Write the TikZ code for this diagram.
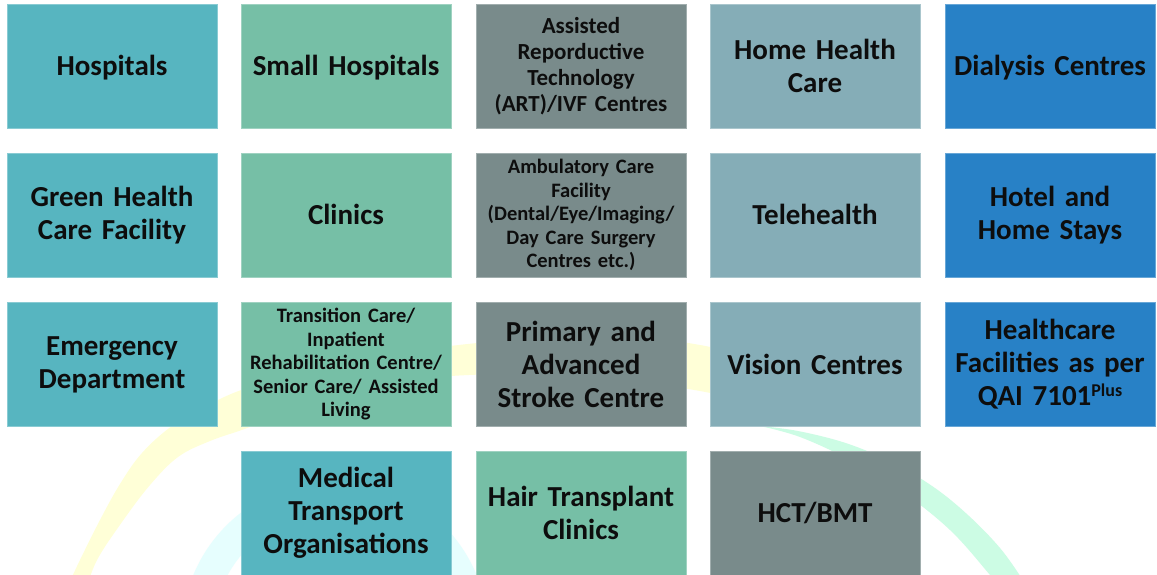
\documentclass[tikz,border=0pt]{standalone}
\usepackage{fontspec}
\setmainfont{Carlito}
\definecolor{cteal}{HTML}{57B5C0}
\definecolor{cgreen}{HTML}{76BFA6}
\definecolor{cgray}{HTML}{798B8B}
\definecolor{cslate}{HTML}{85ADB7}
\definecolor{cblue}{HTML}{2881C6}
\definecolor{arcyellow}{HTML}{FFFFD7}
\definecolor{arcgreen}{HTML}{CCFCE4}
\definecolor{arccyan}{HTML}{E6FEFE}
\definecolor{txt}{HTML}{0D0D0D}
\tikzset{
  tile/.style={minimum width=210pt, minimum height=124pt, inner sep=0pt,
    text width=204pt, align=center, text=txt, line width=0.8pt},
  bigtxt/.style={font=\fontsize{29}{33}\selectfont\bfseries},
  midtxt/.style={font=\fontsize{23}{26}\selectfont\bfseries},
  smalltxt/.style={font=\fontsize{20.5}{23.5}\selectfont\bfseries},
  oneline/.style={text height=19pt, text depth=0pt},
  teal/.style={tile, fill=cteal, draw=cteal!70!white},
  green/.style={tile, fill=cgreen, draw=cgreen!70!white},
  grey/.style={tile, fill=cgray, draw=cgray!70!white},
  slate/.style={tile, fill=cslate, draw=cslate!70!white},
  blue/.style={tile, fill=cblue, draw=cblue!70!white},
}
\begin{document}
\begin{tikzpicture}[x=1pt,y=-1pt]
\useasboundingbox (0,0) rectangle (1157,575);
\fill[white] (0,0) rectangle (1157,575);
\begin{scope}
\clip (0,0) rectangle (1157,575);
% background swooshes
\fill[arcyellow] plot[smooth, tension=0.6] coordinates {(66,590) (80,560) (100,520) (120,484) (142,453) (172,426) (210,404) (250,387) (330,364) (450,346) (560,337) (650,339) (700,345) (760,358)}
  -- plot[smooth, tension=0.6] coordinates {(760,405) (700,391) (600,377) (500,374) (400,381) (320,400) (250,427) (210,441) (178,457) (150,485) (122,522) (97,560) (86,590)} -- cycle;
\fill[arcgreen] plot[smooth, tension=0.6] coordinates {(760,426) (800,431.4) (850,444.5) (900,466.5) (950,499.4) (1000,548) (1035,599.5)}
  -- plot[smooth, tension=0.6] coordinates {(1010,600) (990,575) (950,530) (900,490) (850,460) (800,437) (760,426)} -- cycle;
\draw[arccyan, line width=31pt] (335,634) ++(150:138) arc[start angle=150, end angle=400, radius=138];
\end{scope}
% row 1
\node[teal, bigtxt, oneline]  (hosp)   at (112,66)  {Hospitals};
\node[green, bigtxt, oneline] (small)  at (346,66)  {Small Hospitals};
\node[grey, midtxt]  (art)    at (581,66)  {Assisted\\Reporductive\\Technology\\(ART)/IVF Centres};
\node[slate, bigtxt] (home)   at (815,66)  {Home Health\\Care};
\node[blue, bigtxt, oneline]  (dial)   at (1050,66) {Dialysis Centres};
% row 2
\node[teal, bigtxt]  (greenhc) at (112,215)  {Green Health\\Care Facility};
\node[green, bigtxt, oneline] (clinics) at (346,215)  {Clinics};
\node[grey, smalltxt] (amb)    at (581,215)  {Ambulatory Care\\Facility\\(Dental/Eye/Imaging/\\Day Care Surgery\\Centres etc.)};
\node[slate, bigtxt, oneline] (tele)    at (815,215)  {Telehealth};
\node[blue, bigtxt]  (hotel)   at (1050,215) {Hotel and\\Home Stays};
% row 3
\node[teal, bigtxt]  (emerg)  at (112,364.5)  {Emergency\\Department};
\node[green, smalltxt] (trans) at (346,364.5) {Transition Care/\\Inpatient\\Rehabilitation Centre/\\Senior Care/ Assisted\\Living};
\node[grey, bigtxt]  (stroke) at (581,364.5)  {Primary and\\Advanced\\Stroke Centre};
\node[slate, bigtxt, oneline] (vision) at (815,364.5)  {Vision Centres};
\node[blue, bigtxt]  (qai)    at (1050,364.5) {Healthcare\\Facilities as per\\QAI 7101\raisebox{9pt}{\fontsize{18}{18}\selectfont Plus}};
% row 4
\node[teal, bigtxt]  (medtr) at (346,513) {Medical\\Transport\\Organisations};
\node[green, bigtxt] (hair)  at (581,513) {Hair Transplant\\Clinics};
\node[grey, bigtxt, oneline]  (hct)   at (815,513) {HCT/BMT};
\end{tikzpicture}
\end{document}
